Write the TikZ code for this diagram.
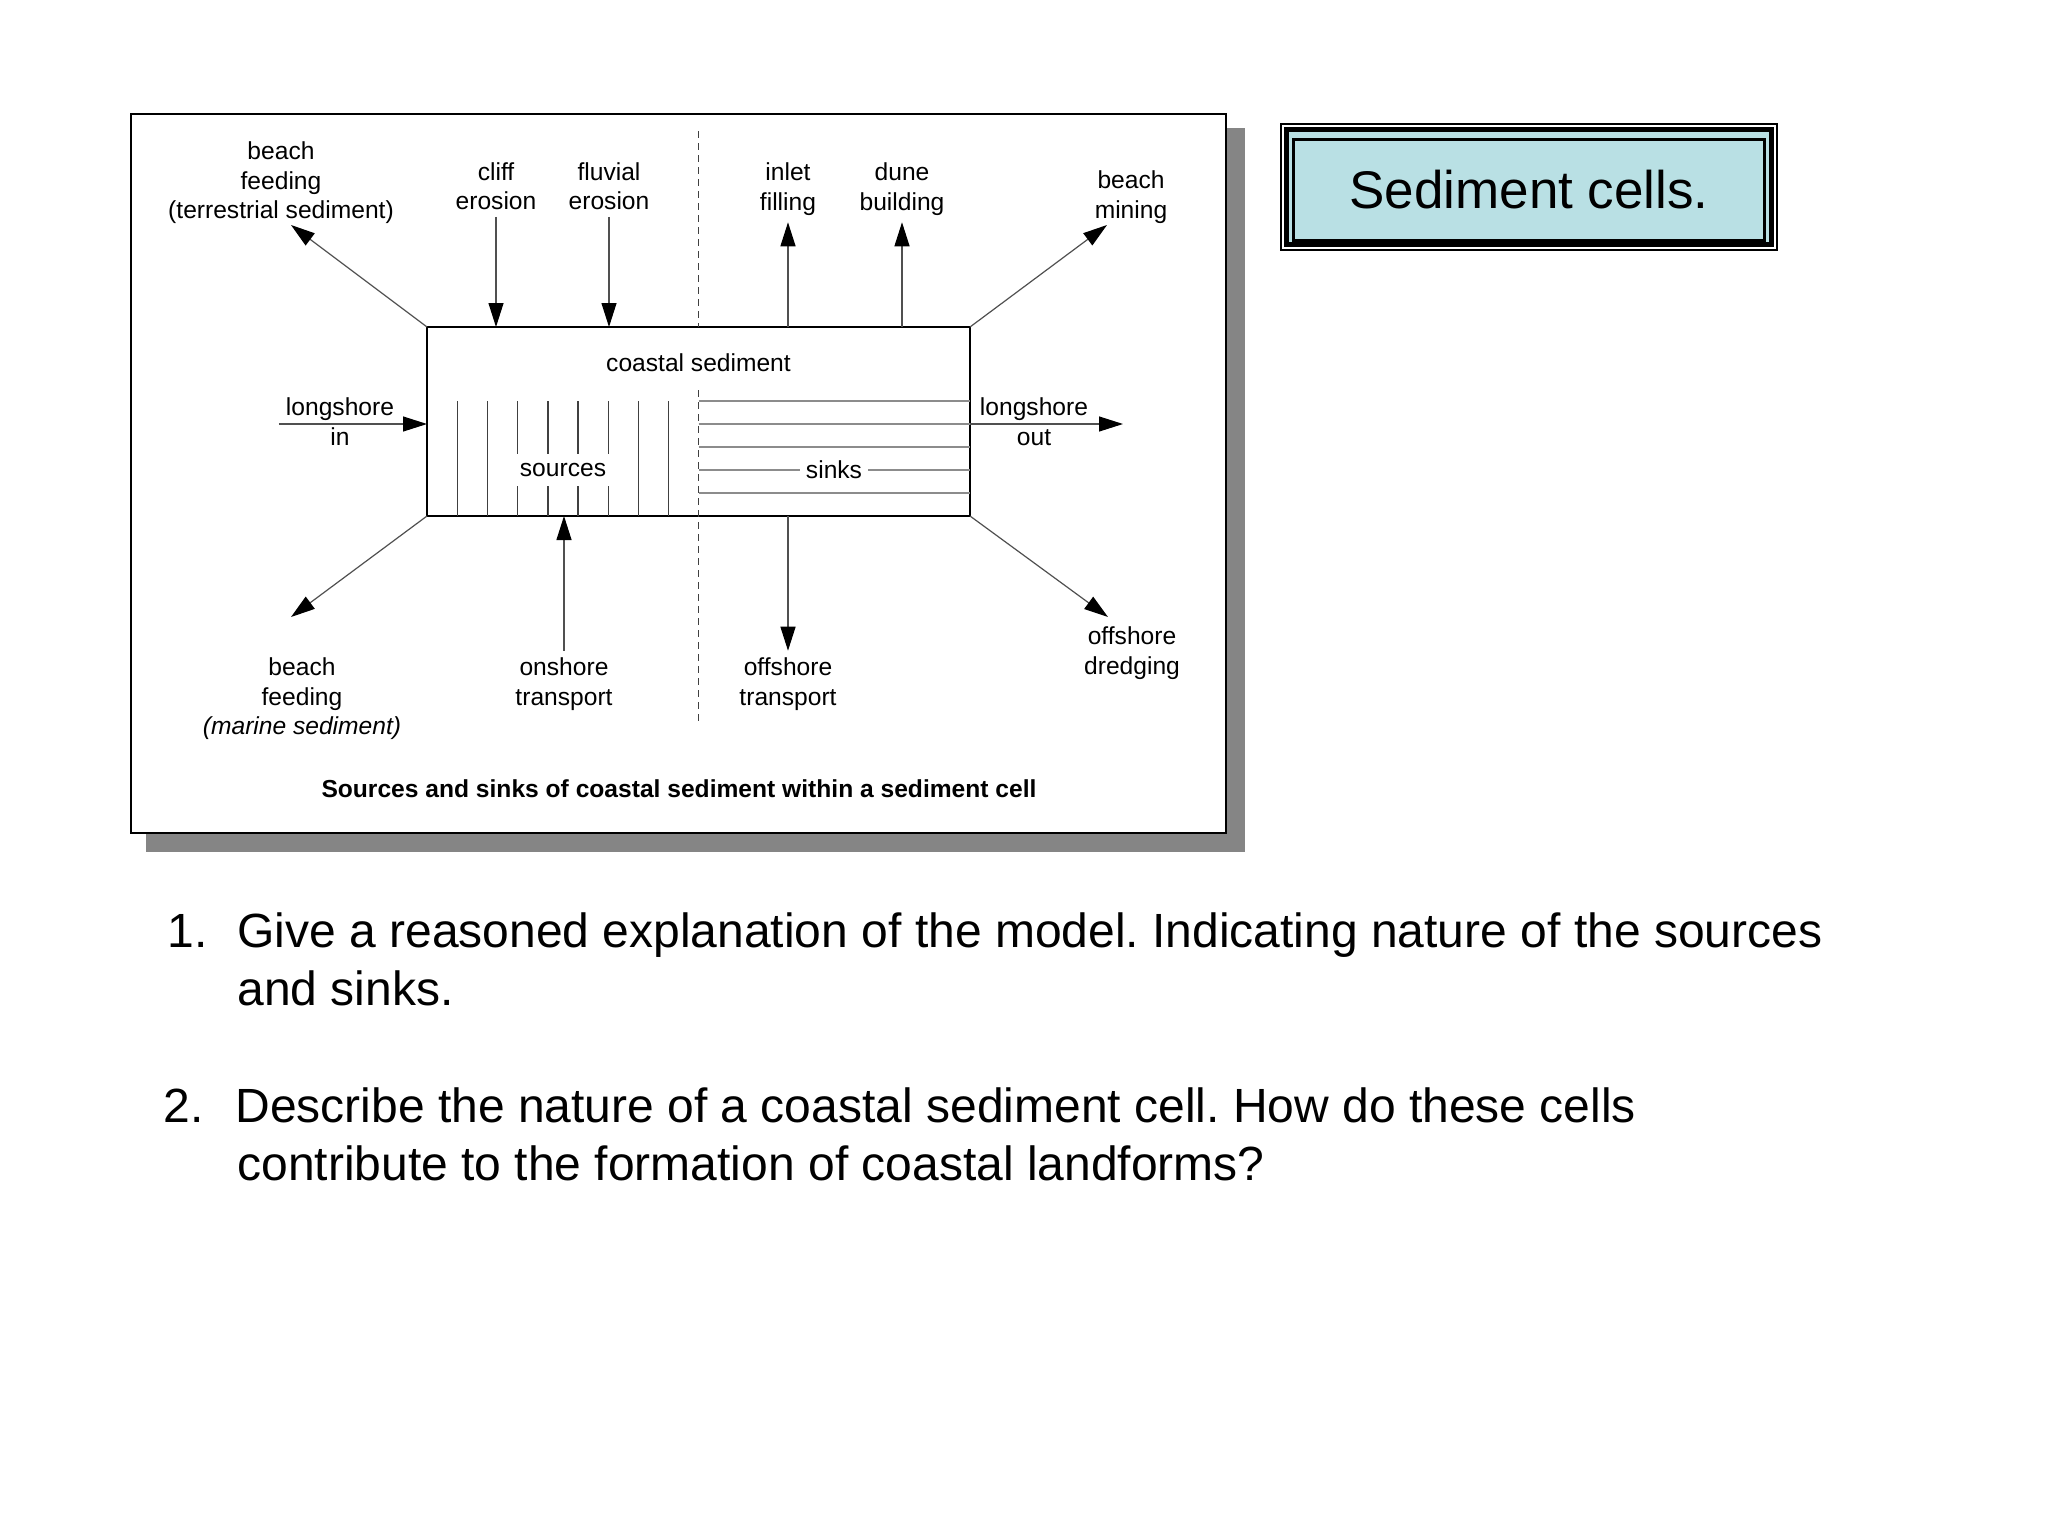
\documentclass[tikz,border=0pt]{standalone}
\usepackage{fontspec}
\setmainfont{Liberation Sans}
\usetikzlibrary{arrows.meta,positioning}
\frenchspacing

\definecolor{titlecyan}{RGB}{185,224,228}
\definecolor{shadowgray}{RGB}{133,133,133}
\definecolor{shaftgray}{RGB}{80,80,80}
\definecolor{sinkgray}{RGB}{140,140,140}

\tikzset{
  lbl/.style={align=center,font=\fontsize{12.3}{14.75}\selectfont},
  tag/.style={lbl,fill=white,inner xsep=3pt,inner ysep=4.5pt},
  flow/.style={->,draw=shaftgray,line width=0.6pt},
  cellbox/.style={draw,line width=1.2pt,minimum width=271.5pt,minimum height=94.5pt,inner sep=0pt,outer sep=0pt},
  divider/.style={draw=black!75,line width=0.6pt,dash pattern=on 3.5pt off 2.5pt},
  qline/.style={anchor=base west,inner sep=0pt,font=\fontsize{24}{29}\selectfont},
}

\begin{document}
\begin{tikzpicture}[x=0.5pt,y=-0.5pt,>={Triangle[length=12pt,width=7.5pt,color=black]}]
\useasboundingbox (0,0) rectangle (2048,1536);
\fill[white] (0,0) rectangle (2048,1536);

% figure panel with shadow
\fill[shadowgray] (146,128) rectangle (1245,852);
\draw[fill=white,line width=1pt] (131,114) rectangle (1226,833);

\node[cellbox] (cell) at (698.5,421.5) {};
\node[lbl] (coastal) at (698.5,363) {coastal sediment};

% hatching: sources left, sinks right
\draw[black!75,line width=0.7pt] (457.2,401) -- (457.2,516) (487.4,401) -- (487.4,516)
  (517.6,401) -- (517.6,516) (547.8,401) -- (547.8,516) (578,401) -- (578,516)
  (608.2,401) -- (608.2,516) (638.4,401) -- (638.4,516) (668.6,401) -- (668.6,516);
\draw[sinkgray,line width=0.7pt] (698.5,401) -- (970,401) (698.5,424) -- (970,424)
  (698.5,447) -- (970,447) (698.5,470) -- (970,470) (698.5,493) -- (970,493);
\node[tag] (sources) at (563,470) {sources};
\node[tag] (sinks) at (834,470) {sinks};

\coordinate (divtop) at (698.5,131);
\coordinate (divmid) at (698.5,390);
\coordinate (divbot) at (698.5,722);
\draw[divider] (divtop) -- (cell.north);
\draw[divider] (divmid) -- (divbot);

% labels
\node[lbl] (feedT) at (281,183) {beach\\feeding\\(terrestrial sediment)};
\node[lbl] (cliff) at (496,186) {cliff\\erosion};
\node[lbl] (fluvial) at (609,186) {fluvial\\erosion};
\node[lbl] (inlet) at (788,189) {inlet\\filling};
\node[lbl] (dune) at (902,189) {dune\\building};
\node[lbl] (mining) at (1131,197) {beach\\mining};
\node[lbl] (lsin) at (340,421.5) {longshore\\in};
\node[lbl] (lsout) at (1034,421.5) {longshore\\out};
\node[lbl] (feedM) at (302,699) {beach\\feeding\\\textit{(marine sediment)}};
\node[lbl] (onshore) at (564,684) {onshore\\transport};
\node[lbl] (offshore) at (788,684) {offshore\\transport};
\node[lbl] (dredging) at (1132,653) {offshore\\dredging};
\node[font=\bfseries\fontsize{12.3}{14.75}\selectfont] (caption) at (679,789) {Sources and sinks of coastal sediment within a sediment cell};

% flows
\coordinate (feedTtip) at (291,225);
\coordinate (miningtip) at (1107,225);
\coordinate (feedMtip) at (291,617);
\coordinate (dredgetip) at (1108,617);
\coordinate (lsouttip) at (1123,424);

\draw[flow] (cell.north west) -- (feedTtip);
\draw[flow] (cliff.south) -- (cliff.south |- cell.north);
\draw[flow] (fluvial.south) -- (fluvial.south |- cell.north);
\draw[flow] (inlet.south |- cell.north) -- (inlet.south);
\draw[flow] (dune.south |- cell.north) -- (dune.south);
\draw[flow] (cell.north east) -- (miningtip);
\draw[flow] (lsin.west |- lsouttip) -- (cell.west |- lsouttip);
\draw[flow] (cell.east |- lsouttip) -- (lsouttip);
\draw[flow] (cell.south west) -- (feedMtip);
\draw[flow] (onshore.north) -- (onshore.north |- cell.south);
\draw[flow] (offshore.north |- cell.south) -- (offshore.north);
\draw[flow] (cell.south east) -- (dredgetip);

% title
\draw[line width=1pt,fill=white] (1281,124) rectangle (1777,250);
\draw[line width=2.35pt,fill=titlecyan] (1286.3,129.3) rectangle (1771.7,244.7);
\node[draw,line width=1.65pt,fill=titlecyan,minimum width=235.7pt,minimum height=50.4pt,
  font=\fontsize{26.5}{31}\selectfont] (title) at (1529,190) {Sediment cells.};

% questions
\node[qline] (q1num) at (167,947) {1.};
\node[qline] (q1a) at (237,947) {Give a reasoned explanation of the model. Indicating nature of the sources};
\node[qline] (q1b) at ([yshift=-29pt]q1a.base west) {and sinks.};
\node[qline] (q2num) at (163,1122) {2.};
\node[qline] (q2a) at (235,1122) {Describe the nature of a coastal sediment cell. How do these cells};
\node[qline] (q2b) at (237,1180) {contribute to the formation of coastal landforms?};
\end{tikzpicture}
\end{document}
